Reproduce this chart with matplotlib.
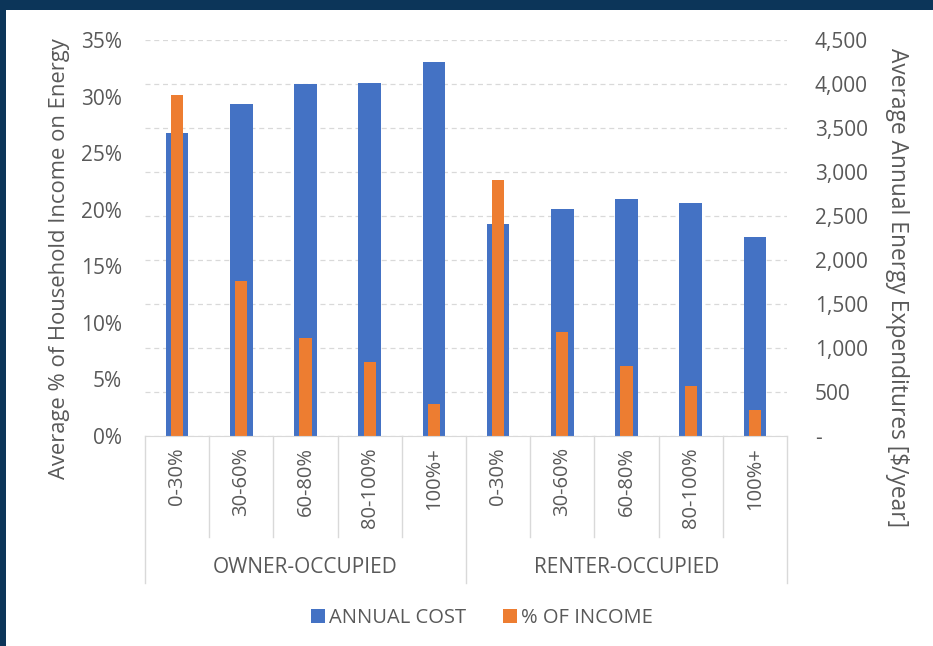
import numpy as np
import matplotlib
matplotlib.use('Agg')
import matplotlib.pyplot as plt
import matplotlib.transforms as mtransforms

# data
groups = ['OWNER-OCCUPIED', 'RENTER-OCCUPIED']
brackets = ['0-30%', '30-60%', '60-80%', '80-100%', '100%+']
annual_cost = [3440, 3770, 3995, 4010, 4250, 2410, 2580, 2690, 2650, 2265]
pct_income = [30.1, 13.7, 8.7, 6.5, 2.8, 22.6, 9.2, 6.2, 4.4, 2.3]
left_ticks = [0, 5, 10, 15, 20, 25, 30, 35]
right_ticks = [0, 500, 1000, 1500, 2000, 2500, 3000, 3500, 4000, 4500]

plt.rcParams['font.family'] = ['Open Sans', 'DejaVu Sans']
TXT = '#595959'
LINE = '#d9d9d9'
BLUE = '#4472C4'
ORANGE = '#ED7D31'

W, H = 933, 646
fig = plt.figure(figsize=(W / 100, H / 100), dpi=100)
fig.patch.set_facecolor('#0c3559')
fig.add_artist(plt.Rectangle((6 / W, 0), 1, (H - 10) / H, transform=fig.transFigure,
                             facecolor='white', edgecolor='none', zorder=-1))

ax = fig.add_axes([145 / W, (H - 436) / H, (787 - 145) / W, 396 / H])
ax2 = ax.twinx()

x = np.arange(len(annual_cost))
b1 = ax2.bar(x, annual_cost, width=0.35, color=BLUE, zorder=2)
b2 = ax.bar(x, pct_income, width=0.19, color=ORANGE, zorder=2)

# orange on top of blue
ax.set_zorder(ax2.get_zorder() + 1)
ax.patch.set_visible(False)
ax2.patch.set_visible(False)

ax.set_xlim(-0.5, len(x) - 0.5)
ax.set_ylim(0, 35)
ax2.set_ylim(0, 4500)

ax2.set_axisbelow(True)
ax2.yaxis.grid(True, ls=(0, (4, 3)), color=LINE, lw=0.9)

for a in (ax, ax2):
    for s in a.spines.values():
        s.set_visible(False)
ax.spines['bottom'].set_visible(True)
ax.spines['bottom'].set_color(LINE)

ax.set_xticks([])
ax.set_yticks(left_ticks)
ax.set_yticklabels([f'{v}%' for v in left_ticks])
ax2.set_yticks(right_ticks)
ax2.set_yticklabels(['-' if v == 0 else f'{v:,}' for v in right_ticks])
ax.tick_params(axis='y', length=0, pad=16.5, labelsize=15, labelcolor=TXT)
ax2.tick_params(axis='y', length=0, pad=20, labelsize=15, labelcolor=TXT)

# multi-level category axis
trans = mtransforms.blended_transform_factory(ax.transData, ax.transAxes)
labels = brackets * len(groups)
for i, lab in enumerate(labels):
    ax.text(i, -0.028, lab, rotation=90, ha='center', va='top', transform=trans,
            fontsize=14.5, color=TXT)
n = len(brackets)
for k in range(len(labels) + 1):
    bx = k - 0.5
    y_end = -0.371 if k % n == 0 else -0.255
    ax.plot([bx, bx], [0, y_end], transform=trans, clip_on=False, color=LINE, lw=1)
for g, name in enumerate(groups):
    ax.text(g * n + (n - 1) / 2, -0.333, name, ha='center', va='center',
            transform=trans, fontsize=15, color=TXT)

fig.text(60 / W, 1 - 259 / H, 'Average % of Household Income on Energy', rotation=90,
         ha='center', va='center', fontsize=15.8, color=TXT)
fig.text(897 / W, 1 - 288 / H, 'Average Annual Energy Expenditures [$/year]', rotation=270,
         ha='center', va='center', fontsize=16.4, color=TXT)

fig.legend([b1, b2], ['ANNUAL COST', '% OF INCOME'], loc='center',
           bbox_to_anchor=(482 / W, 1 - 618 / H), ncol=2, frameon=False,
           handlelength=0.7, handleheight=0.7, handletextpad=0.2, columnspacing=1.8,
           fontsize=14.5, labelcolor=TXT)

fig.savefig('out.png', dpi=100)
